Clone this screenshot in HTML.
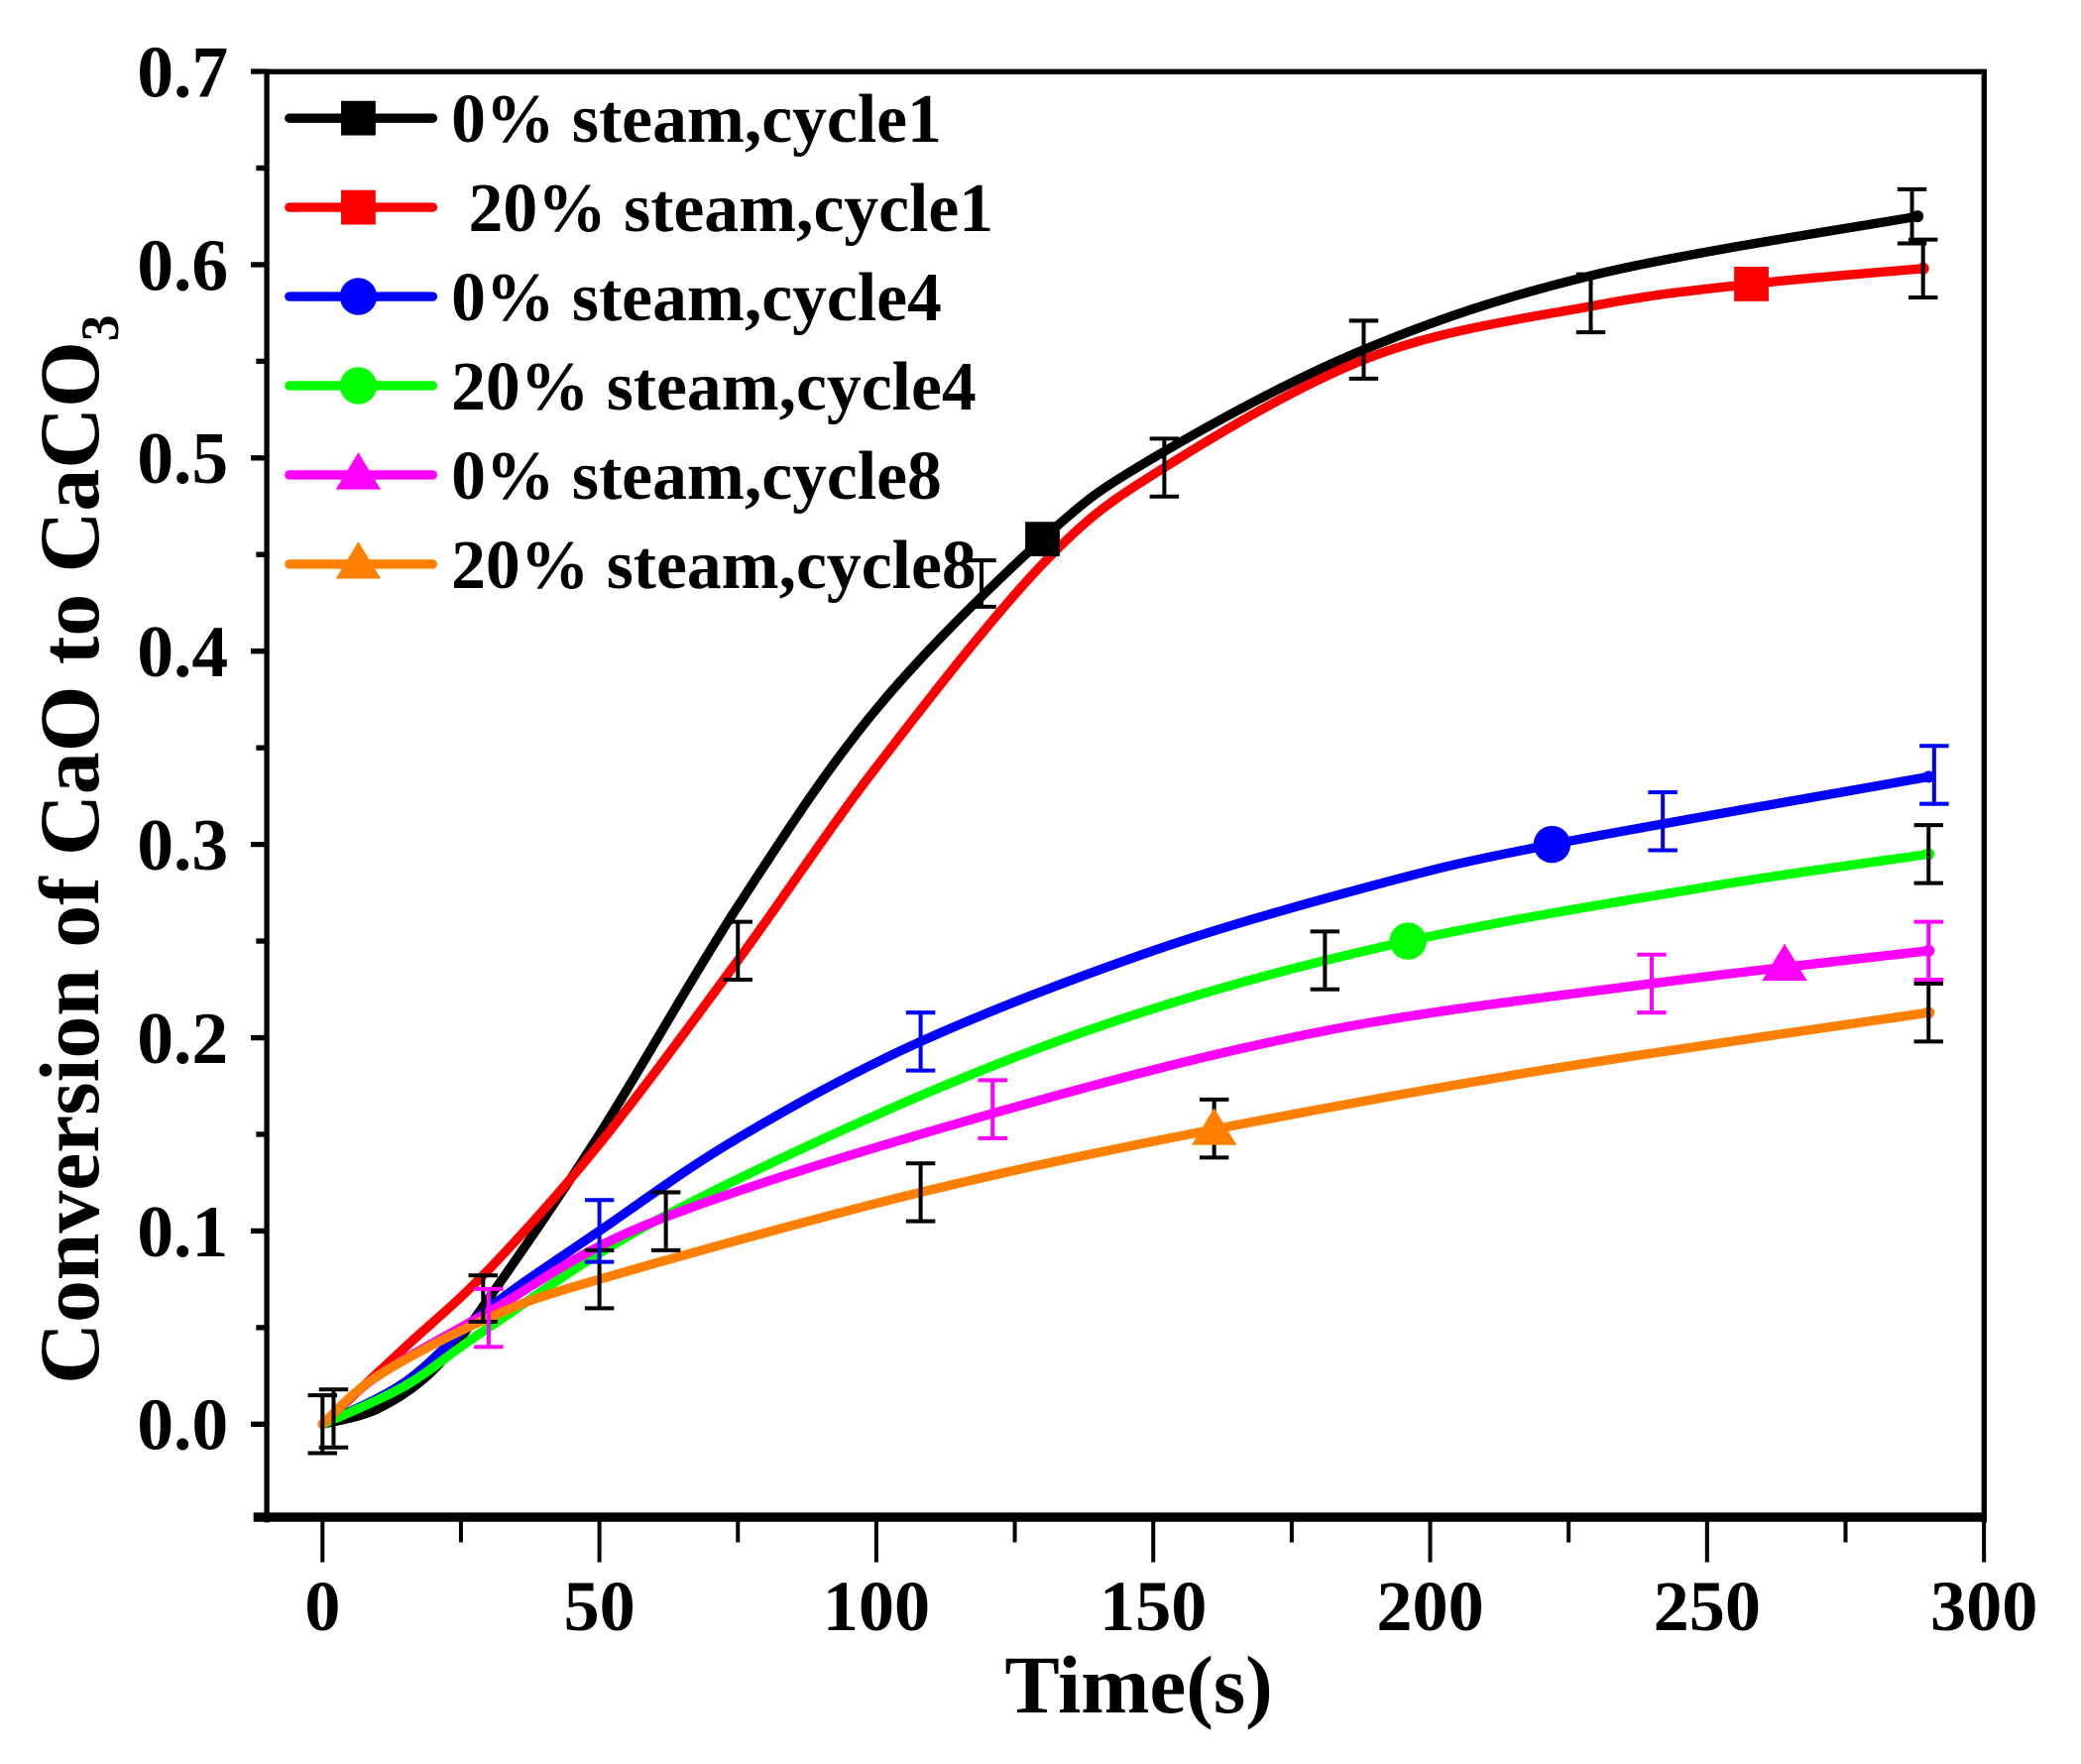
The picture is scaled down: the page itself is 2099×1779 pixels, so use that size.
<!DOCTYPE html>
<html><head><meta charset="utf-8"><style>
html,body{margin:0;padding:0;background:#fff;}
svg{display:block;}
text{font-family:"Liberation Serif",serif;font-weight:bold;fill:#000;}
</style></head><body>
<svg id="s" width="2099" height="1779" viewBox="0 0 1568 1329" preserveAspectRatio="none" xmlns="http://www.w3.org/2000/svg">
<rect x="0" y="0" width="1568" height="1329" fill="#fff"/>
<g id="g"></g>
</svg>
<script>
var g=document.getElementById('g');var ns='http://www.w3.org/2000/svg';
function X(t){return 243+4.173*t;}function Y(v){return 1073-1456*v;}
function el(n,a,txt){var e=document.createElementNS(ns,n);for(var k in a)e.setAttribute(k,a[k]);if(txt!==undefined)e.textContent=txt;g.appendChild(e);return e;}
el('line',{x1:201,y1:54,x2:1495,y2:54,stroke:'#000','stroke-width':4});
el('line',{x1:201,y1:52,x2:201,y2:1147,stroke:'#000','stroke-width':4});
el('line',{x1:1495,y1:52,x2:1495,y2:1147,stroke:'#000','stroke-width':4});
el('line',{x1:191,y1:1143,x2:1497,y2:1143,stroke:'#000','stroke-width':7});
for(var i=0;i<=14;i++){var v=i*0.05;var y=Y(v);el('line',{x1:(i%2?193:189),y1:y,x2:201,y2:y,stroke:'#000','stroke-width':4});
 if(i%2==0)el('text',{x:172,y:y+19,'font-size':55,'text-anchor':'end'},(v).toFixed(1));}
for(var i=0;i<=12;i++){var t=i*25;var x=X(t);el('line',{x1:x,y1:1143,x2:x,y2:(i%2?1162:1177),stroke:'#000','stroke-width':3});
 if(i%2==0)el('text',{x:x,y:1228,'font-size':54,'text-anchor':'middle'},String(t));}
el('text',{x:858,y:1290,'font-size':62,'text-anchor':'middle'},'Time(s)');
var yt=el('text',{x:0,y:0,'font-size':64,'text-anchor':'middle',transform:'translate(74,640) rotate(-90)'});
yt.innerHTML='Conversion of CaO to CaCO<tspan font-size="40" dy="15">3</tspan>';
function path(pts){var p=pts.map(function(q){return [X(q[0]),Y(q[1])];});var d='M'+p[0][0]+','+p[0][1];
 for(var i=0;i<p.length-1;i++){var p0=p[i-1]||p[i],p1=p[i],p2=p[i+1],p3=p[i+2]||p2;
 d+=' C'+(p1[0]+(p2[0]-p0[0])/6)+','+(p1[1]+(p2[1]-p0[1])/6)+' '+(p2[0]-(p3[0]-p1[0])/6)+','+(p2[1]-(p3[1]-p1[1])/6)+' '+p2[0]+','+p2[1];}return d;}
var S=[
['#000',[[0,0],[10,0.008],[20,0.028],[30,0.065],[50,0.15],[75,0.268],[100,0.37],[130,0.458],[150,0.5],[188,0.556],[230,0.595],[288,0.625]]],
['#f00',[[0,0],[15,0.04],[30,0.08],[50,0.145],[75,0.24],[100,0.34],[130,0.445],[152,0.495],[190,0.553],[230,0.579],[258,0.59],[289,0.598]]],
['#00f',[[0,0],[15,0.022],[30,0.06],[50,0.1],[75,0.148],[108,0.198],[150,0.245],[190,0.279],[222,0.3],[290,0.335]]],
['#0f0',[[0,0],[15,0.02],[30,0.05],[60,0.105],[108,0.17],[150,0.215],[196,0.25],[250,0.278],[290,0.295]]],
['#f0f',[[0,0],[10,0.025],[30,0.058],[60,0.105],[120,0.16],[180,0.203],[240,0.228],[290,0.245]]],
['#ff8000',[[0,0],[10,0.025],[30,0.055],[50,0.075],[108,0.12],[160,0.152],[220,0.183],[290,0.213]]]];
S.forEach(function(s){el('path',{d:path(s[1]),fill:'none',stroke:s[0],'stroke-width':7,'stroke-linecap':'round'});
 var l=s[1][s[1].length-1];el('circle',{cx:X(l[0]),cy:Y(l[1]),r:4.5,fill:s[0]});});
function eb(t,v,e,c){var x=X(t),y1=Y(v+e),y2=Y(v-e);el('line',{x1:x,y1:y1,x2:x,y2:y2,stroke:c,'stroke-width':3});
 el('line',{x1:x-11,y1:y1,x2:x+11,y2:y1,stroke:c,'stroke-width':3});el('line',{x1:x-11,y1:y2,x2:x+11,y2:y2,stroke:c,'stroke-width':3});}
[[0,0,0.015],[2,0.003,0.015],[29,0.065,0.012],[50,0.075,0.015],[62,0.105,0.015],[75,0.245,0.015],[108,0.12,0.015],[119,0.435,0.012],[152,0.495,0.015],[161,0.153,0.015],[181,0.24,0.015],[188,0.556,0.015],[229,0.58,0.015],[287,0.625,0.014],[289,0.598,0.015],[290,0.295,0.015],[290,0.213,0.015]].forEach(function(a){eb(a[0],a[1],a[2],'#000');});
[[50,0.1,0.016],[108,0.198,0.015],[242,0.312,0.015],[291,0.336,0.015]].forEach(function(a){eb(a[0],a[1],a[2],'#00f');});
[[30,0.055,0.015],[121,0.163,0.015],[240,0.228,0.015],[290,0.245,0.015]].forEach(function(a){eb(a[0],a[1],a[2],'#f0f');});
function mk(type,x,y,c){if(type=='s')el('rect',{x:x-13,y:y-13,width:26,height:26,fill:c});
 else if(type=='c')el('circle',{cx:x,cy:y,r:14,fill:c});
 else el('polygon',{points:(x)+','+(y-17)+' '+(x-17)+','+(y+11)+' '+(x+17)+','+(y+11),fill:c});}
mk('s',X(130),Y(0.458),'#000');mk('s',X(258),Y(0.59),'#f00');mk('c',X(222),Y(0.3),'#00f');
mk('c',X(196),Y(0.25),'#0f0');mk('t',X(264),Y(0.237),'#f0f');mk('t',X(161),Y(0.152),'#ff8000');
var L=[['#000','s','0% steam,cycle1'],['#f00','s',' 20% steam,cycle1'],['#00f','c','0% steam,cycle4'],['#0f0','c','20% steam,cycle4'],['#f0f','t','0% steam,cycle8'],['#ff8000','t','20% steam,cycle8']];
L.forEach(function(l,i){var y=89+i*67.2;el('line',{x1:218,y1:y,x2:326,y2:y,stroke:l[0],'stroke-width':7,'stroke-linecap':'round'});
 mk(l[1],270,y,l[0]);var t=el('text',{x:340,y:y+18,'font-size':52},l[2]);t.setAttribute('xml:space','preserve');t.style.whiteSpace='pre';});
</script>
</body></html>
